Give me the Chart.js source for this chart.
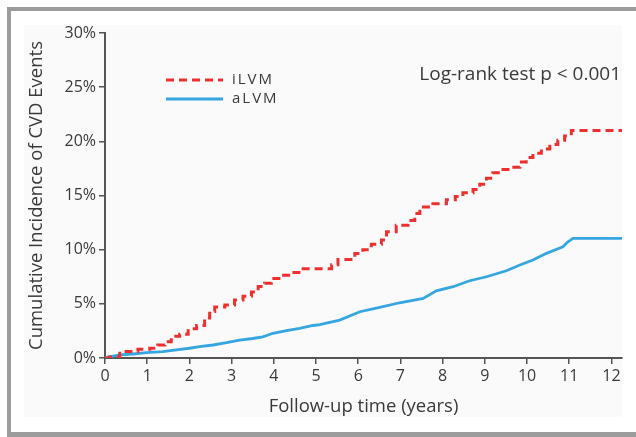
<!DOCTYPE html>
<html>
<head>
<meta charset="utf-8">
<script src="https://cdn.jsdelivr.net/npm/chart.js@4/dist/chart.umd.min.js"></script>
<style>
  html, body { margin: 0; padding: 0; background: #fff; }
  canvas { display: block; }
</style>
</head>
<body>
<canvas id="kmChart" width="636" height="437"></canvas>
<script>
// --- dati ---
const xTicks = [0, 1, 2, 3, 4, 5, 6, 7, 8, 9, 10, 11, 12];
const yTicks = [0, 5, 10, 15, 20, 25, 30];

// iLVM (rosso tratteggiato)
const iLVM_years = [0, 0.1, 0.35, 0.5, 0.78, 1.06, 1.25, 1.42, 1.57, 1.77, 1.97, 2.17, 2.36, 2.48, 2.6, 2.84,
  3.07, 3.27, 3.47, 3.63, 3.78, 3.94, 4.18, 4.42, 4.65, 5.25, 5.37, 5.52, 5.8, 5.92, 6.11, 6.31, 6.55,
  6.67, 6.9, 7.18, 7.34, 7.46, 7.77, 8.09, 8.3, 8.48, 8.72, 8.88, 9.04, 9.19, 9.39, 9.63, 9.83, 9.98,
  10.14, 10.34, 10.54, 10.73, 10.89, 11.05, 12.25];
const iLVM_pct = [0, 0.1, 0.45, 0.6, 0.8, 0.9, 1.2, 1.5, 2.0, 2.2, 2.7, 3.0, 3.7, 4.3, 4.7, 4.9,
  5.35, 5.7, 6.1, 6.6, 6.9, 7.35, 7.65, 7.9, 8.25, 8.25, 8.6, 9.1, 9.1, 9.65, 10.0, 10.5, 10.9,
  11.65, 12.25, 12.7, 13.35, 13.95, 14.25, 14.6, 14.9, 15.25, 15.55, 16.05, 16.6, 17.1, 17.4, 17.6, 18.1, 18.5,
  18.9, 19.3, 19.7, 20.1, 20.5, 21.0, 21.0];

// aLVM (blu continuo)
const aLVM_years = [0, 0.1, 0.35, 0.66, 0.98, 1.37, 1.69, 2.0, 2.24, 2.56, 2.88, 3.19, 3.5, 3.74, 3.98,
  4.3, 4.61, 4.93, 5.09, 5.56, 6.04, 6.51, 6.98, 7.54, 7.85, 8.25, 8.64, 9.04, 9.51, 9.83, 10.14,
  10.46, 10.85, 10.97, 11.09, 12.25];
const aLVM_pct = [0, 0.1, 0.28, 0.37, 0.49, 0.58, 0.74, 0.9, 1.04, 1.2, 1.41, 1.66, 1.8, 1.96, 2.28,
  2.52, 2.74, 3.0, 3.08, 3.5, 4.27, 4.68, 5.1, 5.5, 6.2, 6.58, 7.13, 7.5, 8.05, 8.58, 9.04,
  9.66, 10.27, 10.73, 11.05, 11.05];

const toPoints = (xs, ys) => xs.map((x, i) => ({ x: x, y: ys[i] }));

const textColor = "#3a3a3a";
const axisColor = "#555555";
const fontFamily = "'Open Sans', 'Noto Sans', sans-serif";

// sfondo con cornice grigia
const framePlugin = {
  id: "frame",
  beforeDraw(chart) {
    const c = chart.ctx;
    c.save();
    c.fillStyle = "#ffffff";
    c.fillRect(0, 0, chart.width, chart.height);
    c.fillStyle = "#fafafa";
    c.fillRect(24, 25, 598, 392);
    c.fillStyle = "#9c9c9c";
    c.fillRect(7, 7, chart.width - 7, 4);   // sopra
    c.fillRect(7, 7, 4, 429);               // sinistra
    c.fillRect(7, 432, chart.width - 7, 5); // sotto
    c.restore();
  }
};

// legenda e testo del log-rank
const notesPlugin = {
  id: "notes",
  afterDraw(chart) {
    const c = chart.ctx;
    c.save();
    chart.data.datasets.forEach((ds, i) => {
      const y = 80 + i * 19;
      c.strokeStyle = ds.borderColor;
      c.lineWidth = ds.borderWidth;
      c.setLineDash(ds.borderDash || []);
      c.beginPath();
      c.moveTo(166, y);
      c.lineTo(223, y);
      c.stroke();
      c.setLineDash([]);
      c.fillStyle = textColor;
      c.font = "15px " + fontFamily;
      c.textAlign = "left";
      c.textBaseline = "middle";
      c.letterSpacing = "2px";
      c.fillText(ds.label, 232, y);
    });
    c.letterSpacing = "0px";
    c.font = "19px " + fontFamily;
    c.textAlign = "right";
    c.textBaseline = "middle";
    c.fillText("Log-rank test p < 0.001", 621, 75);
    c.restore();
  }
};

new Chart(document.getElementById("kmChart"), {
  type: "line",
  data: {
    datasets: [
      {
        label: "iLVM",
        data: toPoints(iLVM_years, iLVM_pct),
        borderColor: "#ee2f2f",
        borderWidth: 3,
        borderDash: [8, 5],
        stepped: true,
        pointRadius: 0,
        fill: false
      },
      {
        label: "aLVM",
        data: toPoints(aLVM_years, aLVM_pct),
        borderColor: "#35a6e0",
        borderWidth: 2.8,
        pointRadius: 0,
        tension: 0,
        fill: false
      }
    ]
  },
  options: {
    responsive: false,
    animation: false,
    layout: { padding: { left: 0, top: 33, right: 14, bottom: 0 } },
    plugins: {
      legend: { display: false },
      tooltip: { enabled: false }
    },
    scales: {
      x: {
        type: "linear",
        min: 0,
        max: 12.25,
        afterBuildTicks: (scale) => { scale.ticks = xTicks.map(v => ({ value: v })); },
        afterFit: (scale) => { scale.height = 79; },
        grid: { drawOnChartArea: false, drawTicks: true, tickLength: 6, color: axisColor, lineWidth: 1.5 },
        border: { color: axisColor, width: 2 },
        ticks: { color: textColor, padding: 3, font: { family: fontFamily, size: 16 } },
        title: {
          display: true,
          text: "Follow-up time (years)",
          color: textColor,
          font: { family: fontFamily, size: 18.5, lineHeight: 1.2 },
          padding: { top: 0, bottom: 19 }
        }
      },
      y: {
        min: 0,
        max: 30,
        afterBuildTicks: (scale) => { scale.ticks = yTicks.map(v => ({ value: v })); },
        afterFit: (scale) => { scale.width = 105; },
        grid: { drawOnChartArea: false, drawTicks: true, tickLength: 6, color: axisColor, lineWidth: 1.5 },
        border: { color: axisColor, width: 2 },
        ticks: {
          color: textColor,
          padding: 3,
          font: { family: fontFamily, size: 16 },
          callback: (v) => v + "%"
        },
        title: {
          display: true,
          text: "Cumulative Incidence of CVD Events",
          color: textColor,
          font: { family: fontFamily, size: 18.5, lineHeight: 1.2 },
          padding: { top: 26, bottom: 0 }
        }
      }
    }
  },
  plugins: [framePlugin, notesPlugin]
});
</script>
</body>
</html>
